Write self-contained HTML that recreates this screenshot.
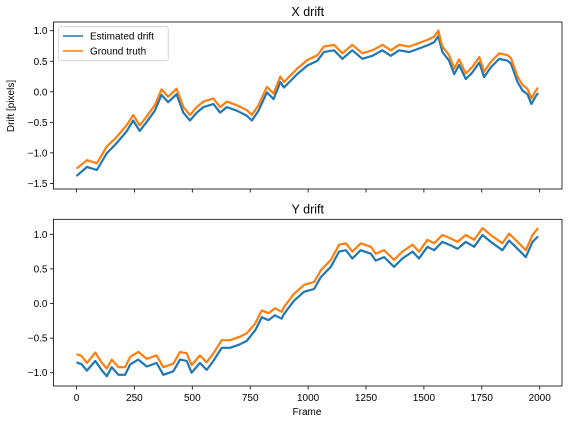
<!DOCTYPE html>
<html><head><meta charset="utf-8"><style>
body{margin:0;background:#fff;}
svg{display:block;font-family:"Liberation Sans","DejaVu Sans",sans-serif;}
</style></head><body>
<svg id="chart" width="568" height="424" viewBox="0 0 568 424"></svg>
<script>
const framesX=[0,45,88,130,173,216,245,273,302,338,367,396,432,461,490,519,548,591,620,649,692,735,757,786,822,851,880,896,953,997,1040,1068,1112,1148,1191,1234,1277,1321,1357,1393,1436,1472,1515,1544,1562,1580,1609,1631,1652,1681,1710,1739,1760,1789,1825,1861,1876,1904,1926,1947,1964,1983,1993];
const truthX=[-1.26,-1.12,-1.17,-0.90,-0.74,-0.55,-0.38,-0.55,-0.41,-0.22,0.04,-0.08,0.05,-0.25,-0.38,-0.25,-0.16,-0.11,-0.25,-0.16,-0.22,-0.30,-0.38,-0.22,0.08,-0.03,0.25,0.16,0.38,0.52,0.60,0.74,0.77,0.63,0.77,0.63,0.68,0.77,0.68,0.77,0.74,0.79,0.85,0.90,1.00,0.74,0.60,0.38,0.53,0.30,0.41,0.57,0.33,0.49,0.63,0.60,0.55,0.25,0.11,0.05,-0.11,0.02,0.07];
const estX=[-1.38,-1.23,-1.28,-1.01,-0.84,-0.65,-0.47,-0.64,-0.50,-0.31,-0.05,-0.17,-0.04,-0.34,-0.47,-0.34,-0.25,-0.20,-0.34,-0.25,-0.31,-0.39,-0.47,-0.31,-0.01,-0.12,0.16,0.07,0.29,0.43,0.51,0.65,0.68,0.54,0.68,0.54,0.59,0.68,0.59,0.68,0.65,0.70,0.76,0.81,0.91,0.65,0.51,0.29,0.44,0.21,0.32,0.48,0.24,0.40,0.54,0.51,0.46,0.16,0.02,-0.04,-0.20,-0.07,-0.02];
const framesY=[0,23,45,81,110,131,152,181,210,232,267,303,346,375,418,447,476,497,533,562,591,627,663,706,735,771,800,829,857,886,896,939,983,1026,1055,1098,1134,1163,1191,1227,1271,1292,1328,1371,1407,1451,1479,1515,1544,1580,1616,1645,1681,1717,1753,1789,1839,1868,1904,1940,1969,1993];
const truthY=[-0.73,-0.76,-0.86,-0.71,-0.86,-0.94,-0.81,-0.92,-0.92,-0.77,-0.70,-0.80,-0.75,-0.92,-0.87,-0.70,-0.72,-0.89,-0.75,-0.85,-0.72,-0.53,-0.53,-0.48,-0.43,-0.29,-0.10,-0.14,-0.07,-0.12,-0.05,0.14,0.27,0.31,0.48,0.63,0.85,0.87,0.75,0.87,0.82,0.72,0.77,0.63,0.75,0.85,0.75,0.92,0.87,0.99,0.94,0.89,0.99,0.92,1.09,0.99,0.87,1.01,0.89,0.77,0.99,1.09];
const estY=[-0.85,-0.88,-0.97,-0.83,-0.97,-1.05,-0.92,-1.03,-1.03,-0.88,-0.81,-0.91,-0.86,-1.03,-0.98,-0.81,-0.83,-1.00,-0.86,-0.96,-0.83,-0.64,-0.64,-0.59,-0.54,-0.39,-0.20,-0.24,-0.17,-0.22,-0.15,0.04,0.17,0.21,0.38,0.53,0.75,0.77,0.65,0.77,0.72,0.62,0.67,0.53,0.65,0.75,0.65,0.82,0.77,0.89,0.84,0.79,0.89,0.82,0.99,0.89,0.77,0.91,0.79,0.67,0.89,0.97];
const xTicks=[0,250,500,750,1000,1250,1500,1750,2000];
const yTicksTop=[1.0,0.5,0.0,-0.5,-1.0,-1.5];
const yTicksBot=[1.0,0.5,0.0,-0.5,-1.0];

const NS="http://www.w3.org/2000/svg";
const svg=document.getElementById('chart');
function mk(tag,attrs,parent){const e=document.createElementNS(NS,tag);for(const k in attrs)e.setAttribute(k,attrs[k]);(parent||svg).appendChild(e);return e;}
const xs=f=>76.5+f*0.2316;
function panel(cfg){
  const g=mk('g',{});
  
  
  const ys=v=>cfg.y0-v*cfg.k;
  const t=mk('text',{x:(cfg.L+cfg.R)/2,y:cfg.T-6,'text-anchor':'middle','font-size':12.5,fill:'#000'},g);
  t.textContent=cfg.title;
  
  
  xTicks.forEach(v=>{
    mk('line',{x1:xs(v),x2:xs(v),y1:cfg.B,y2:cfg.B+3.5,stroke:'#000','stroke-width':0.8},g);
    if(cfg.xlabels){const l=mk('text',{x:xs(v),y:cfg.B+15,'text-anchor':'middle','font-size':10,fill:'#000'},g);l.textContent=String(v);
      
      }
  });
  cfg.yt.forEach(v=>{
    mk('line',{x1:cfg.L-3.5,x2:cfg.L,y1:ys(v),y2:ys(v),stroke:'#000','stroke-width':0.8},g);
    const l=mk('text',{x:cfg.L-6,y:ys(v)+3.5,'text-anchor':'end','font-size':10,fill:'#000'},g);
    l.textContent=(v<0?'\u2212':'')+Math.abs(v).toFixed(1);
    
    
  });
  [[cfg.fr,cfg.est,'#1f77b4','estimated-drift-line'],[cfg.fr,cfg.truth,'#ff7f0e','ground-truth-line']].forEach(s=>{
    const d=s[1].map((v,i)=>(i?'L':'M')+xs(s[0][i]).toFixed(1)+' '+ys(v).toFixed(1)).join(' ');
    const p=mk('path',{d:d,fill:'none',stroke:s[2],'stroke-width':2.2,'stroke-linejoin':'round'},g);
    
    
  });
  mk('rect',{x:cfg.L,y:cfg.T,width:cfg.R-cfg.L,height:cfg.B-cfg.T,fill:'none',stroke:'#000','stroke-width':0.8},g);
}
panel({name:'x-drift-panel',title:'X drift',L:53.5,R:562,T:22,B:189,y0:91.8,k:61.07,yt:yTicksTop,fr:framesX,est:estX,truth:truthX,xlabels:false});
panel({name:'y-drift-panel',title:'Y drift',L:53.5,R:562,T:219.3,B:386,y0:303.5,k:69.2,yt:yTicksBot,fr:framesY,est:estY,truth:truthY,xlabels:true});
</script>
<svg width="0" height="0"></svg>
<script>
(function(){
const NS="http://www.w3.org/2000/svg";const svg=document.getElementById('chart');
const yl=document.createElementNS(NS,'text');
yl.setAttribute('transform','translate(14,106) rotate(-90)');yl.setAttribute('text-anchor','middle');yl.setAttribute('font-size','10');
yl.textContent='Drift [pixels]';


svg.appendChild(yl);
const xl=document.createElementNS(NS,'text');
xl.setAttribute('x','307');xl.setAttribute('y','415');xl.setAttribute('text-anchor','middle');xl.setAttribute('font-size','10');
xl.textContent='Frame';


svg.appendChild(xl);
const lg=document.createElementNS(NS,'g');


svg.appendChild(lg);
lg.innerHTML='<rect x="58.7" y="26.7" width="109.5" height="34" rx="2" fill="#fff" stroke="#ccc" stroke-width="0.8"/>'+
'<line x1="63" x2="83" y1="36" y2="36" stroke="#1f77b4" stroke-width="1.6"/>'+
'<text x="90" y="39.5" font-size="10">Estimated drift</text>'+
'<line x1="63" x2="83" y1="51" y2="51" stroke="#ff7f0e" stroke-width="1.6"/>'+
'<text x="90" y="54.5" font-size="10">Ground truth</text>';
})();
</script>
</body></html>
